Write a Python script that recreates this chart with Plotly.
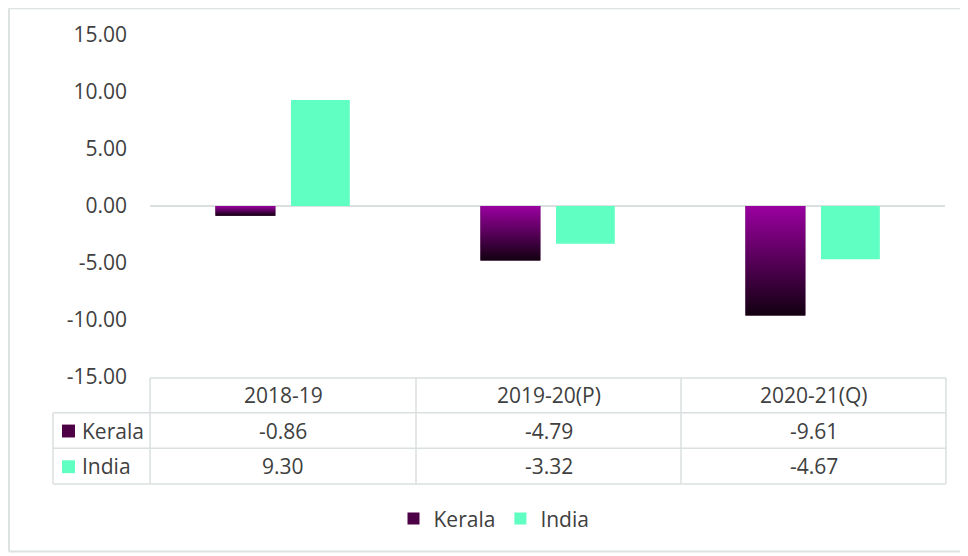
import plotly.graph_objects as go

# ---- data ----
categories = ["2018-19", "2019-20(P)", "2020-21(Q)"]
kerala = [-0.86, -4.79, -9.61]
india = [9.30, -3.32, -4.67]
series_names = ["Kerala", "India"]
y_ticks = [-15, -10, -5, 0, 5, 10, 15]
y_tick_text = [f"{v:.2f}" for v in y_ticks]

# ---- styles ----
KERALA_SOLID = "#4e0047"
KERALA_TOP = "#9a00a0"
KERALA_BOTTOM = "#120010"
INDIA_COLOR = "#60ffc2"
GRID = "#dadfdf"
TEXT = "#404040"
FONT = "Open Sans"
FS = 21

# page body has an 8px margin; screen coords are converted to figure coords
OX, OY = 8, 8
W, H = 960, 548
PLOT_X0, PLOT_X1, PLOT_Y0, PLOT_Y1 = 150, 945, 32, 377  # screen px
L = PLOT_X0 - OX
R = W - (PLOT_X1 - OX)
T = PLOT_Y0 - OY
B = H - (PLOT_Y1 - OY)
PW, PH = PLOT_X1 - PLOT_X0, PLOT_Y1 - PLOT_Y0


def px(x):
    return (x - PLOT_X0) / PW


def py(y):
    return (PLOT_Y1 - y) / PH


K_OFF, K_W = -0.253, 0.226
I_OFF, I_W = 0.032, 0.222

xs = list(range(len(categories)))

fig = go.Figure()
fig.add_trace(go.Bar(
    x=xs, y=kerala, name=series_names[0], offset=K_OFF, width=K_W,
    marker=dict(color=KERALA_SOLID, line=dict(width=0)),
    customdata=categories, hovertemplate="%{customdata}: %{y:.2f}<extra>Kerala</extra>",
))
fig.add_trace(go.Bar(
    x=xs, y=india, name=series_names[1], offset=I_OFF, width=I_W,
    marker=dict(color=INDIA_COLOR, line=dict(width=0)),
    customdata=categories, hovertemplate="%{customdata}: %{y:.2f}<extra>India</extra>",
))

# gradient overlay on Kerala bars
for i, v in zip(xs, kerala):
    x0, x1 = i + K_OFF, i + K_OFF + K_W
    fig.add_trace(go.Scatter(
        x=[x0, x1, x1, x0, x0], y=[0, 0, v, v, 0],
        mode="lines", fill="toself", line=dict(width=0),
        fillgradient=dict(type="vertical",
                          colorscale=[[0, KERALA_BOTTOM], [1, KERALA_TOP]]),
        showlegend=False, hoverinfo="skip",
    ))

shapes = []
annotations = []


def hline(x0, x1, y, color=GRID, w=1.5):
    shapes.append(dict(type="line", xref="paper", yref="paper",
                       x0=px(x0), x1=px(x1), y0=py(y), y1=py(y),
                       line=dict(color=color, width=w)))


def vline(x, y0, y1, color=GRID, w=1.5):
    shapes.append(dict(type="line", xref="paper", yref="paper",
                       x0=px(x), x1=px(x), y0=py(y0), y1=py(y1),
                       line=dict(color=color, width=w)))


def label(x, y, text, xanchor="center"):
    annotations.append(dict(xref="paper", yref="paper", x=px(x), y=py(y),
                            xanchor=xanchor, yanchor="middle",
                            text=text, showarrow=False,
                            font=dict(size=FS, color=TEXT, family=FONT)))


# outer chart border (right side runs off the picture)
BORDER = "#dde2e2"
hline(9, 975, 5, BORDER, 2)
hline(9, 975, 553, BORDER, 2)
vline(9, 5, 553, BORDER, 2)

# data table grid
col_edges = [150, 416, 681, 946]
tbl_top, row1, row2, row3 = 378, 413, 449, 485
hline(150, 946, tbl_top)
hline(53, 946, row1)
hline(53, 946, row2)
hline(53, 946, row3)
vline(53, row1, row3)
for cx in col_edges:
    vline(cx, tbl_top, row3)

# header and values
for j, cat in enumerate(categories):
    cx = (col_edges[j] + col_edges[j + 1]) / 2
    label(cx, 395, cat)
    label(cx, 431, f"{kerala[j]:.2f}")
    label(cx, 467, f"{india[j]:.2f}")

# row labels with keys
for name, yc, col in [(series_names[0], 431, KERALA_SOLID), (series_names[1], 467, INDIA_COLOR)]:
    shapes.append(dict(type="rect", xref="paper", yref="paper",
                       x0=px(62), x1=px(75), y0=py(yc + 7), y1=py(yc - 6),
                       fillcolor=col, line=dict(width=0)))
    label(80, yc, name, xanchor="left")

fig.update_layout(
    width=W, height=H,
    margin=dict(l=L, r=R, t=T, b=B, pad=0),
    paper_bgcolor="white", plot_bgcolor="white",
    font=dict(family=FONT, color=TEXT, size=FS),
    barmode="group",
    showlegend=True,
    legend=dict(orientation="h", x=px(494), xanchor="center",
                y=py(520), yanchor="middle",
                font=dict(size=FS, color=TEXT, family=FONT),
                itemwidth=30, bgcolor="rgba(0,0,0,0)"),
    shapes=shapes,
    annotations=annotations,
    xaxis=dict(range=[-0.5, 2.5], showticklabels=False, showgrid=False,
               zeroline=False, showline=False, ticks="", fixedrange=True),
    yaxis=dict(range=[-15, 15], tickvals=y_ticks, ticktext=y_tick_text,
               showgrid=False, zeroline=True, zerolinecolor=GRID,
               zerolinewidth=2, showline=False, ticks="",
               ticklabelstandoff=22,
               tickfont=dict(size=FS, color=TEXT, family=FONT)),
)

fig.write_html("out.html")
